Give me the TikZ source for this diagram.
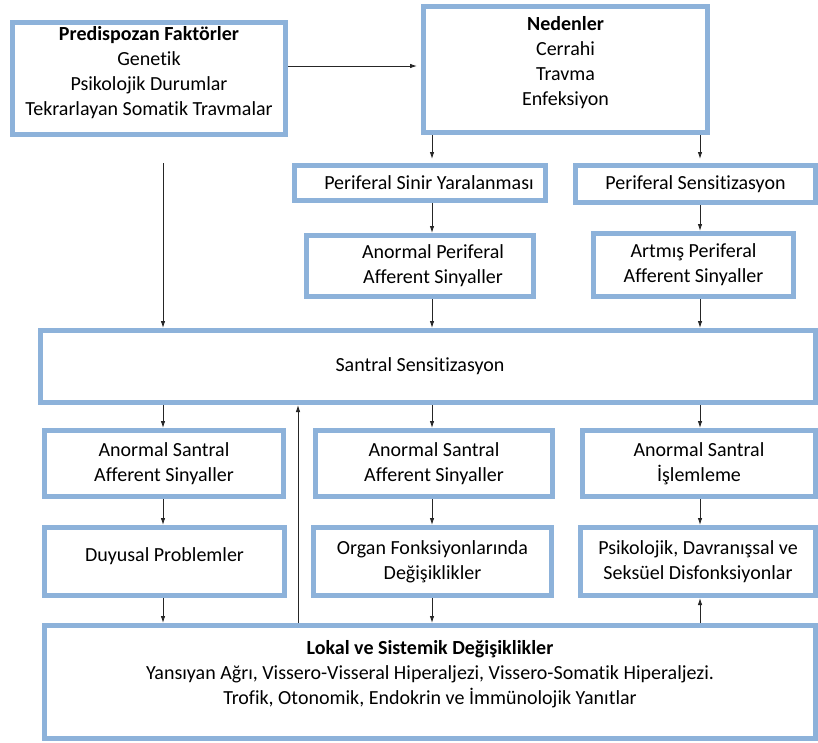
\documentclass[tikz,border=0pt]{standalone}
\usepackage{fontspec}
\setmainfont{Carlito}[Ligatures=NoCommon]
\usetikzlibrary{arrows.meta}
\definecolor{bordblue}{RGB}{141,178,218}
\newcommand\lowstrut[1]{\rule[-#1]{0pt}{#1}}
\tikzset{
  box/.style={draw=bordblue, line width=5pt, fill=white, align=center, inner sep=2pt,
    font=\fontsize{20}{25}\selectfont},
  arr/.style={draw=black!85, line width=0.9pt, -{Latex[length=7pt,width=4.5pt]}},
}
\begin{document}
\begin{tikzpicture}[x=1pt,y=-1pt]
\useasboundingbox[fill=white] (0,0) rectangle (818,742);
\coordinate (xA) at (163,0);
\coordinate (xB) at (432,0);
\coordinate (xC) at (700,0);
\coordinate (xU) at (298,0);

\node[box, minimum width=273pt, minimum height=112pt] (pre) at (149,78.5)
  {\textbf{Predispozan Faktörler}\\Genetik\\Psikolojik Durumlar\\Tekrarlayan Somatik Travmalar\lowstrut{16pt}};
\node[box, minimum width=284pt, minimum height=126pt] (ned) at (565.5,69.5)
  {\textbf{Nedenler}\\Cerrahi\\Travma\\Enfeksiyon\lowstrut{17pt}};
\node[box, minimum width=251pt, minimum height=35pt] (psy) at (420,183)
  {\hspace*{18pt}Periferal Sinir Yaralanması};
\node[box, minimum width=240pt, minimum height=37pt] (ps) at (695.5,184)
  {Periferal Sensitizasyon};
\node[box, minimum width=227pt, minimum height=61pt] (apa) at (420,266)
  {\hspace*{26pt}Anormal Periferal\\\hspace*{26pt}Afferent Sinyaller};
\node[box, minimum width=200pt, minimum height=63pt] (artp) at (693.5,265)
  {Artmış Periferal\\Afferent Sinyaller};
\node[box, minimum width=775pt, minimum height=72pt] (san) at (428,366.5)
  {Santral Sensitizasyon\hspace*{16pt}};
\node[box, minimum width=239pt, minimum height=66pt] (r3a) at (164,463.5)
  {Anormal Santral\\Afferent Sinyaller};
\node[box, minimum width=237pt, minimum height=66pt] (r3b) at (434,463.5)
  {Anormal Santral\\Afferent Sinyaller};
\node[box, minimum width=233pt, minimum height=66pt] (r3c) at (699,463.5)
  {Anormal Santral\\İşlemleme};
\node[box, minimum width=240pt, minimum height=68pt] (r4a) at (164.5,561.5)
  {Duyusal Problemler\lowstrut{13pt}};
\node[box, minimum width=238pt, minimum height=68pt] (r4b) at (432.5,561.5)
  {Organ Fonksiyonlarında\\Değişiklikler};
\node[box, minimum width=235pt, minimum height=68pt] (r4c) at (698,561.5)
  {Psikolojik, Davranışsal ve\\Seksüel Disfonksiyonlar};
\node[box, minimum width=771pt, minimum height=113pt] (bot) at (430,682)
  {\textbf{Lokal ve Sistemik Değişiklikler}\\Yansıyan Ağrı, Vissero-Visseral Hiperaljezi, Vissero-Somatik Hiperaljezi.\\Trofik, Otonomik, Endokrin ve İmmünolojik Yanıtlar\lowstrut{20pt}};

% connectors
\draw[arr, shorten >=4pt] ([yshift=12.5pt]pre.east) -- ([yshift=12.5pt]pre.east -| ned.west);
\draw[arr, shorten >=4pt] (ned.south -| xB) -- (psy.north -| xB);
\draw[arr, shorten >=4pt] (ned.south -| xC) -- (ps.north -| xC);
\draw[arr] (psy.south -| xB) -- (apa.north -| xB);
\draw[arr] (ps.south -| xC) -- (artp.north -| xC);
\draw[arr] (apa.south -| xB) -- (san.north -| xB);
\draw[arr] (artp.south -| xC) -- (san.north -| xC);
\draw[arr, shorten <=26pt] (pre.south -| xA) -- (san.north -| xA);
\draw[arr] (san.south -| xA) -- (r3a.north -| xA);
\draw[arr] (san.south -| xB) -- (r3b.north -| xB);
\draw[arr] (san.south -| xC) -- (r3c.north -| xC);
\draw[arr] (r3a.south -| xA) -- (r4a.north -| xA);
\draw[arr] (r3b.south -| xB) -- (r4b.north -| xB);
\draw[arr] (r3c.south -| xC) -- (r4c.north -| xC);
\draw[arr] (r4a.south -| xA) -- (bot.north -| xA);
\draw[arr] (r4b.south -| xB) -- (bot.north -| xB);
\draw[arr] (bot.north -| xC) -- (r4c.south -| xC);
\draw[arr] (bot.north -| xU) -- (san.south -| xU);
\end{tikzpicture}
\end{document}
